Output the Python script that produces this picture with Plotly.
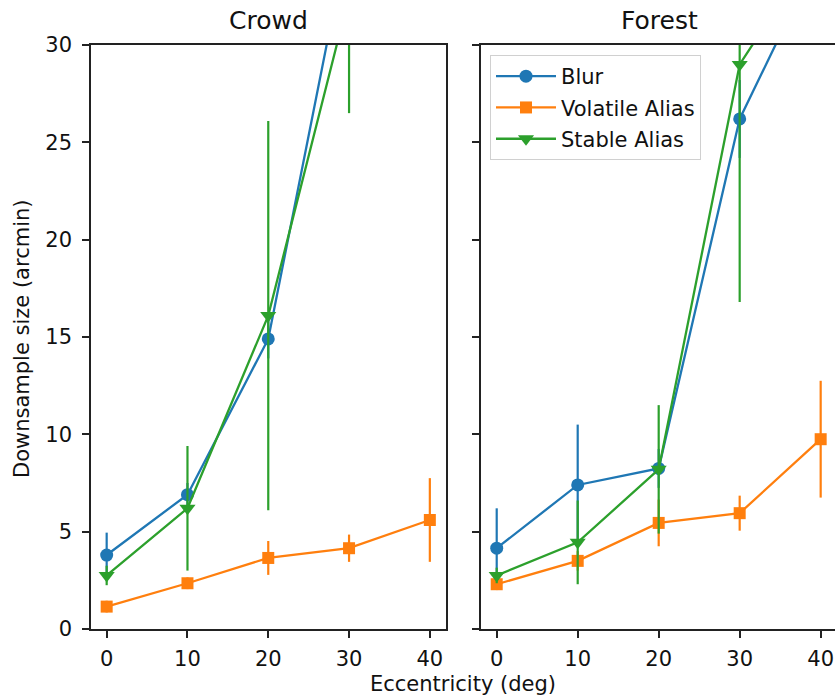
import plotly.graph_objects as go

eccentricity = [0, 10, 20, 30, 40]

# Crowd scene
crowd_blur = [3.8, 6.9, 14.9, 35.8, 42.0]
crowd_blur_err = [1.15, 0.6, 1.0, 3.0, 4.0]
crowd_volatile = [1.15, 2.35, 3.65, 4.15, 5.6]
crowd_volatile_err = [0.3, 0.3, 0.87, 0.7, 2.15]
crowd_stable = [2.75, 6.2, 16.1, 32.5, 40.0]
crowd_stable_err = [0.5, 3.2, 10.0, 6.0, 5.0]

# Forest scene
forest_blur = [4.15, 7.4, 8.25, 26.2, 34.8]
forest_blur_err = [2.05, 3.1, 1.0, 2.0, 3.0]
forest_volatile = [2.3, 3.5, 5.45, 5.95, 9.75]
forest_volatile_err = [0.3, 0.5, 1.2, 0.9, 3.0]
forest_stable = [2.75, 4.45, 8.2, 29.0, 35.4]
forest_stable_err = [0.4, 2.15, 3.3, 12.2, 5.0]

series_names = ["Blur", "Volatile Alias", "Stable Alias"]
colors = ["#1f77b4", "#ff7f0e", "#2ca02c"]
symbols = ["circle", "square", "triangle-down"]
marker_sizes = [13, 12, 14]

W, H = 835, 698
FONT = "DejaVu Sans"
TXT = "#111111"

def px_x(p):
    return p / W

def px_y(p):
    return 1 - p / H

fig = go.Figure()

panels = [
    ("x", "y", [crowd_blur, crowd_volatile, crowd_stable],
     [crowd_blur_err, crowd_volatile_err, crowd_stable_err], True),
    ("x2", "y2", [forest_blur, forest_volatile, forest_stable],
     [forest_blur_err, forest_volatile_err, forest_stable_err], False),
]

for xa, ya, vals, errs, first in panels:
    for i in range(3):
        fig.add_trace(go.Scatter(
            x=eccentricity, y=vals[i],
            xaxis=xa, yaxis=ya,
            mode="lines+markers",
            name=series_names[i],
            legendgroup=series_names[i],
            showlegend=not first,
            line=dict(color=colors[i], width=2.3),
            marker=dict(symbol=symbols[i], size=marker_sizes[i], color=colors[i],
                        line=dict(width=0)),
            error_y=dict(type="data", array=errs[i], color=colors[i],
                         thickness=2.2, width=0, visible=True),
        ))

tick_font = dict(family=FONT, size=21, color=TXT)

axis_common = dict(
    showline=True, linecolor="#222", linewidth=1.5,
    ticks="outside", ticklen=7, tickwidth=1.5, tickcolor="#222",
    showgrid=False, zeroline=False, tickfont=tick_font, automargin=False,
)

y_dom = [px_y(629), px_y(45)]

fig.update_layout(
    template="none",
    width=W, height=H,
    margin=dict(l=0, r=0, t=0, b=0, pad=0, autoexpand=False),
    paper_bgcolor="white", plot_bgcolor="white",
    font=dict(family=FONT, size=21, color=TXT),
    xaxis=dict(domain=[px_x(91), px_x(446)], range=[-1.94, 42.0],
               tickvals=[0, 10, 20, 30, 40], mirror=True, anchor="y",
               ticklabelstandoff=3, **axis_common),
    yaxis=dict(domain=y_dom, range=[0, 30], tickvals=[0, 5, 10, 15, 20, 25, 30],
               mirror=True, anchor="x", ticklabelstandoff=6, **axis_common),
    xaxis2=dict(domain=[px_x(481), 1.0], range=[-1.94, 41.77],
                tickvals=[0, 10, 20, 30, 40], mirror=True, anchor="y2",
                ticklabelstandoff=3, **axis_common),
    yaxis2=dict(domain=y_dom, range=[0, 30], tickvals=[0, 5, 10, 15, 20, 25, 30],
                showticklabels=False, mirror=False, anchor="x2", **axis_common),
    legend=dict(
        x=px_x(490), y=px_y(55), xanchor="left", yanchor="top",
        bgcolor="rgba(255,255,255,0.8)", bordercolor="#d0d0d0", borderwidth=1,
        font=dict(family=FONT, size=21, color=TXT),
        traceorder="grouped", tracegroupgap=1, itemwidth=60,
    ),
    showlegend=True,
    annotations=[
        dict(text="Crowd", x=px_x(268.5), y=px_y(20), xref="paper", yref="paper",
             xanchor="center", yanchor="middle",
             showarrow=False, font=dict(family=FONT, size=25, color=TXT)),
        dict(text="Forest", x=px_x(659), y=px_y(20), xref="paper", yref="paper",
             xanchor="center", yanchor="middle",
             showarrow=False, font=dict(family=FONT, size=25, color=TXT)),
        dict(text="Downsample size (arcmin)", x=px_x(22), y=px_y(339), xref="paper",
             yref="paper", xanchor="center", yanchor="middle",
             showarrow=False, textangle=-90,
             font=dict(family=FONT, size=21, color=TXT)),
        dict(text="Eccentricity (deg)", x=px_x(463), y=px_y(684), xref="paper",
             yref="paper", xanchor="center", yanchor="middle", showarrow=False,
             font=dict(family=FONT, size=21, color=TXT)),
    ],
)

fig.write_html("out.html")
